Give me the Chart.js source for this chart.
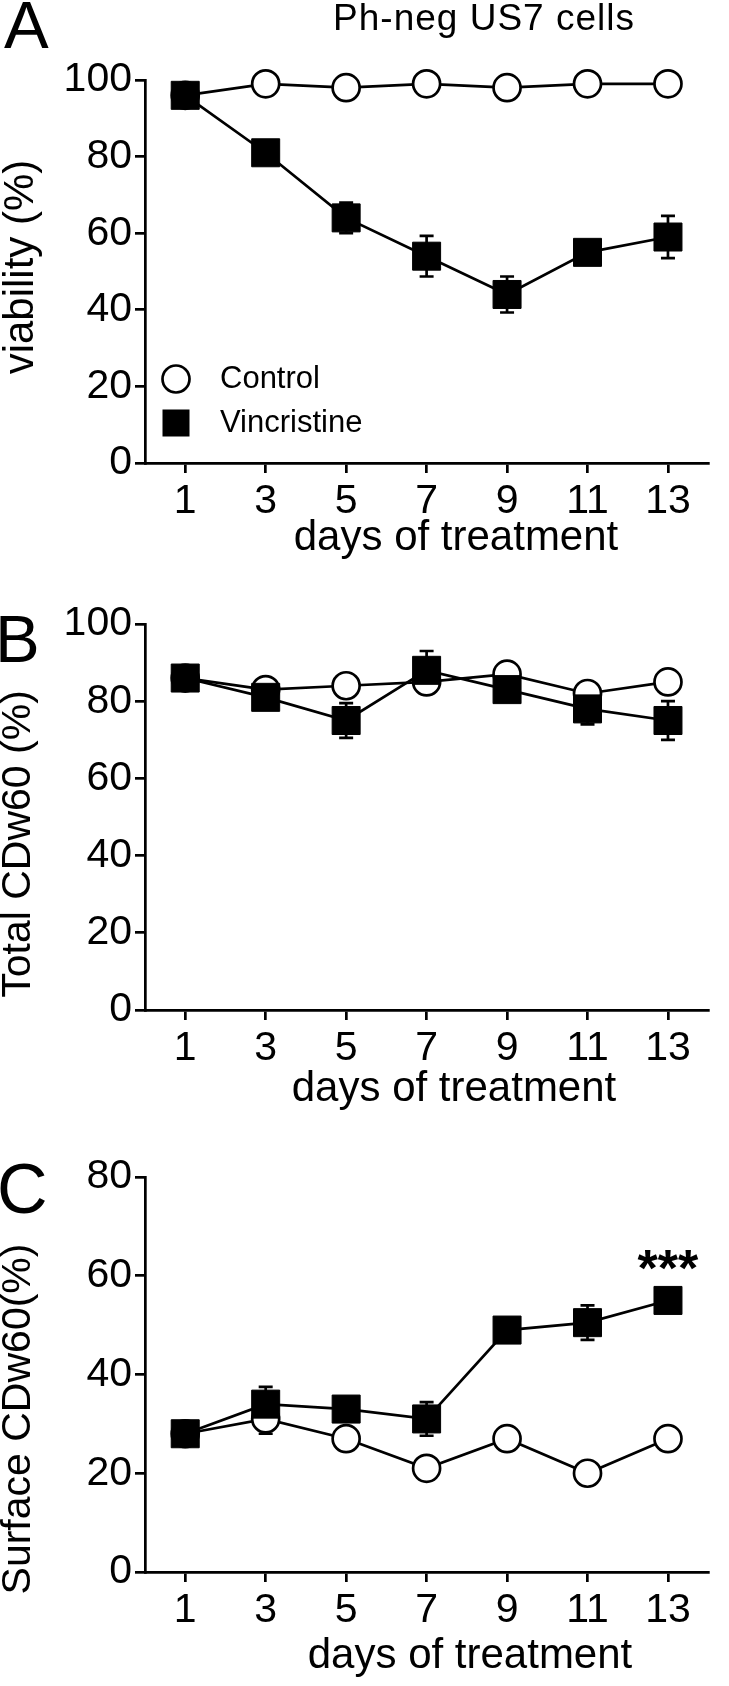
<!DOCTYPE html>
<html>
<head>
<meta charset="utf-8">
<script src="https://cdn.jsdelivr.net/npm/chart.js@4"></script>
<style>
  html, body { margin: 0; padding: 0; background: #fff; }
  body { width: 729px; height: 1686px; position: relative; overflow: hidden; }
  canvas { position: absolute; left: 0; }
</style>
</head>
<body>
<canvas id="chartA" width="729" height="560" style="top:0"></canvas>
<canvas id="chartB" width="729" height="560" style="top:560px"></canvas>
<canvas id="chartC" width="729" height="566" style="top:1120px"></canvas>
<script>
// data
const days = [1, 3, 5, 7, 9, 11, 13];
const dayTicks = [1, 3, 5, 7, 9, 11, 13];
const seriesNames = ["Control", "Vincristine"];

const viabilityControl = [96, 99, 98, 99, 98, 99, 99];
const viabilityControlErr = [0.5, 0.5, 0.5, 0.5, 0.5, 0.5, 0.5];
const viabilityVinc = [96, 81, 64, 54, 44, 55, 59];
const viabilityVincErr = [1.5, 1.5, 4, 5.3, 4.7, 1.5, 5.5];

const totalControl = [86, 83, 84, 85, 87, 82, 85];
const totalControlErr = [1, 1, 1, 1, 1, 1, 1];
const totalVinc = [86, 81, 75, 88, 83, 78, 75];
const totalVincErr = [1.5, 1.5, 4.5, 5, 2, 4, 5];

const surfaceControl = [28, 31, 27, 21, 27, 20, 27];
const surfaceControlErr = [1, 3, 1, 1, 1, 1, 1];
const surfaceVinc = [28, 34, 33, 31, 49, 50.5, 55];
const surfaceVincErr = [1.5, 3.5, 1.5, 3.4, 2, 3.5, 1];

const yTicks100 = [0, 20, 40, 60, 80, 100];
const yTicks80 = [0, 20, 40, 60, 80];

const starDay = 13;
const starValue = 64;
const starText = "***";

const FONT = "'Liberation Sans', Arial, sans-serif";
const LW = 2.7;

function toPoints(vals) {
    return days.map((d, i) => ({ x: d, y: vals[i] }));
}

// error bars drawn under the markers
const errorBars = {
    id: "errorBars",
    beforeDatasetsDraw(chart) {
        const { ctx, scales: { x, y } } = chart;
        ctx.save();
        ctx.strokeStyle = "#000";
        ctx.lineWidth = LW;
        chart.data.datasets.forEach(ds => {
            if (!ds.err) return;
            ds.data.forEach((p, i) => {
                const e = ds.err[i];
                const px = x.getPixelForValue(p.x);
                const top = y.getPixelForValue(p.y + e);
                const bot = y.getPixelForValue(p.y - e);
                ctx.beginPath();
                ctx.moveTo(px, top); ctx.lineTo(px, bot);
                ctx.moveTo(px - 7, top); ctx.lineTo(px + 7, top);
                ctx.moveTo(px - 7, bot); ctx.lineTo(px + 7, bot);
                ctx.stroke();
            });
        });
        ctx.restore();
    }
};

// panel letters, axis titles, legend, significance stars
const decor = {
    id: "decor",
    afterDraw(chart, args, opts) {
        const ctx = chart.ctx;
        ctx.save();
        ctx.fillStyle = "#000";
        (opts.texts || []).forEach(t => {
            ctx.save();
            ctx.font = (t.bold ? "bold " : "") + t.size + "px " + FONT;
            ctx.textAlign = t.align || "center";
            ctx.textBaseline = t.baseline || "alphabetic";
            if (t.spacing) ctx.letterSpacing = t.spacing + "px";
            ctx.translate(t.x, t.y);
            if (t.rot) ctx.rotate(t.rot * Math.PI / 180);
            ctx.fillText(t.text, 0, 0);
            ctx.restore();
        });
        if (opts.legend) {
            const L = opts.legend;
            ctx.lineWidth = LW;
            ctx.strokeStyle = "#000";
            ctx.beginPath();
            ctx.arc(L.x, L.y1, 13.5, 0, Math.PI * 2);
            ctx.fillStyle = "#fff";
            ctx.fill();
            ctx.stroke();
            ctx.fillStyle = "#000";
            ctx.fillRect(L.x - 13.5, L.y2 - 13.5, 27, 27);
            ctx.font = "31px " + FONT;
            ctx.textAlign = "left";
            ctx.textBaseline = "middle";
            ctx.fillText(seriesNames[0], L.tx, L.y1);
            ctx.fillText(seriesNames[1], L.tx, L.y2);
        }
        if (opts.star) {
            const { x, y } = chart.scales;
            ctx.font = "bold 52px " + FONT;
            ctx.textAlign = "center";
            ctx.textBaseline = "alphabetic";
            ctx.fillText(starText, x.getPixelForValue(starDay), y.getPixelForValue(starValue) + 30);
        }
        ctx.restore();
    }
};

function makeChart(id, o) {
    const axisFont = { family: FONT, size: 41 };
    return new Chart(document.getElementById(id), {
        type: "line",
        data: {
            datasets: [
                {
                    label: seriesNames[1],
                    data: toPoints(o.vinc),
                    err: o.vincErr,
                    borderColor: "#000",
                    borderWidth: LW,
                    pointStyle: "rect",
                    pointRadius: 19.8,
                    pointBackgroundColor: "#000",
                    pointBorderColor: "#000",
                    pointBorderWidth: 1,
                    tension: 0,
                    clip: false
                },
                {
                    label: seriesNames[0],
                    data: toPoints(o.control),
                    err: o.controlErr,
                    borderColor: "#000",
                    borderWidth: LW,
                    pointStyle: "circle",
                    pointRadius: 13.5,
                    pointBackgroundColor: "#fff",
                    pointBorderColor: "#000",
                    pointBorderWidth: LW,
                    tension: 0,
                    clip: false
                }
            ]
        },
        options: {
            responsive: false,
            animation: false,
            devicePixelRatio: 1,
            layout: { padding: { left: 0, right: o.padRight, top: o.padTop, bottom: 0 } },
            plugins: {
                legend: { display: false },
                tooltip: { enabled: false },
                decor: { texts: o.texts, legend: o.legend, star: o.star }
            },
            scales: {
                x: {
                    type: "linear",
                    min: 0,
                    max: 14,
                    afterBuildTicks: s => { s.ticks = dayTicks.map(v => ({ value: v })); },
                    afterFit: s => { s.height = o.xAxisH; },
                    border: { color: "#000", width: LW },
                    grid: { drawOnChartArea: false, color: "#000", lineWidth: LW, tickLength: 10 },
                    ticks: { color: "#000", font: axisFont, padding: 4, maxRotation: 0, autoSkip: false }
                },
                y: {
                    type: "linear",
                    min: 0,
                    max: o.yMax,
                    afterBuildTicks: s => { s.ticks = o.yTicks.map(v => ({ value: v })); },
                    afterFit: s => { s.width = 145; },
                    border: { color: "#000", width: LW },
                    grid: { drawOnChartArea: false, color: "#000", lineWidth: LW, tickLength: 10 },
                    ticks: { color: "#000", font: axisFont, padding: 3 }
                }
            }
        },
        plugins: [errorBars, decor]
    });
}

makeChart("chartA", {
    control: viabilityControl, controlErr: viabilityControlErr,
    vinc: viabilityVinc, vincErr: viabilityVincErr,
    yMax: 100, yTicks: yTicks100,
    padTop: 80, padRight: 7, xAxisH: 97,
    texts: [
        { text: "A", x: 4, y: 48, size: 67, align: "left" },
        { text: "Ph-neg US7 cells", x: 484, y: 30, size: 37, spacing: 1 },
        { text: "viability (%)", x: 21, y: 267, size: 42, rot: -90, baseline: "middle" },
        { text: "days of treatment", x: 456, y: 550, size: 42 }
    ],
    legend: { x: 176, y1: 379, y2: 423, tx: 220 }
});

makeChart("chartB", {
    control: totalControl, controlErr: totalControlErr,
    vinc: totalVinc, vincErr: totalVincErr,
    yMax: 100, yTicks: yTicks100,
    padTop: 64, padRight: 2, xAxisH: 110,
    texts: [
        { text: "B", x: -5, y: 102, size: 67, align: "left" },
        { text: "Total CDw60 (%)", x: 19, y: 284, size: 41, rot: -90, baseline: "middle" },
        { text: "days of treatment", x: 454, y: 541, size: 42 }
    ]
});

makeChart("chartC", {
    control: surfaceControl, controlErr: surfaceControlErr,
    vinc: surfaceVinc, vincErr: surfaceVincErr,
    yMax: 80, yTicks: yTicks80,
    padTop: 57, padRight: 2, xAxisH: 114,
    texts: [
        { text: "C", x: -3, y: 93, size: 70, align: "left" },
        { text: "Surface CDw60(%)", x: 19, y: 299, size: 41, rot: -90, baseline: "middle" },
        { text: "days of treatment", x: 470, y: 548, size: 42 }
    ],
    star: true
});
</script>
</body>
</html>
